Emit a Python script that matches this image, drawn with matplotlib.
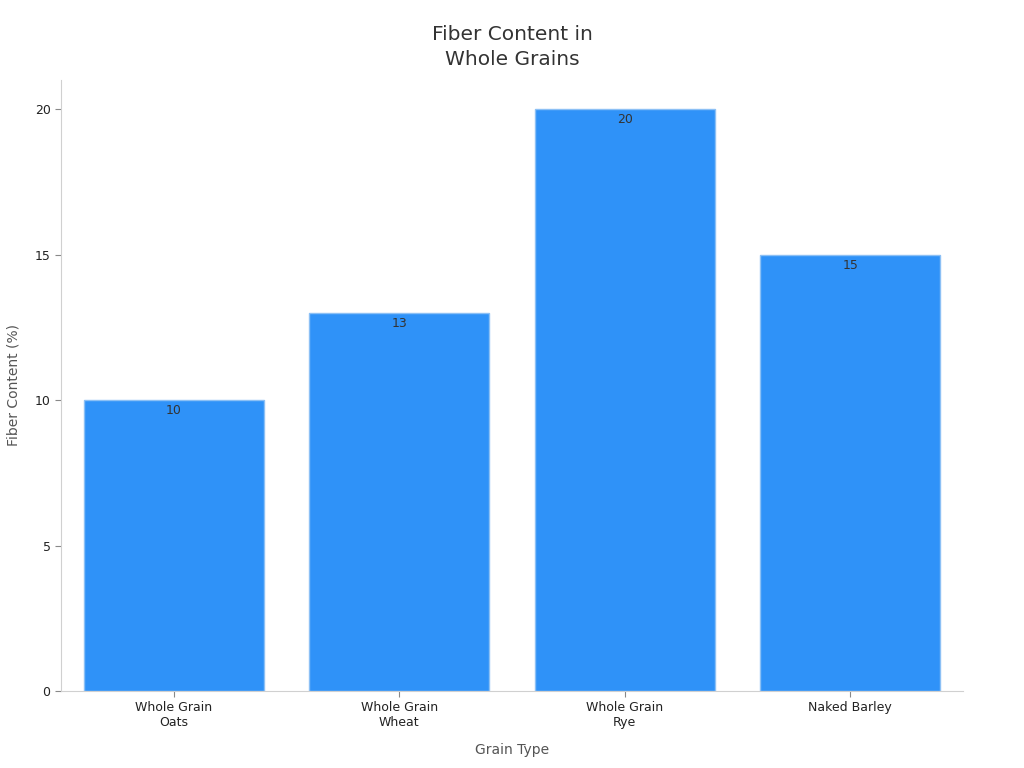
import matplotlib
matplotlib.use("Agg")
import matplotlib.pyplot as plt

grains = ["Whole Grain\nOats", "Whole Grain\nWheat", "Whole Grain\nRye", "Naked Barley"]
fiber = [10, 13, 20, 15]
yticks = [0, 5, 10, 15, 20]

plt.rcParams['font.family'] = ['DejaVu Sans']

fig = plt.figure(figsize=(10.24, 7.68), dpi=100)
ax = fig.add_axes([0.0596, 0.1003, 0.8808, 0.7955])

x = range(len(grains))
bars = ax.bar(x, fiber, width=0.8, color="#2f92f8", edgecolor="#8cc0f5", linewidth=1)

for b, v in zip(bars, fiber):
    ax.text(b.get_x() + b.get_width() / 2, v - 0.15, str(v), ha="center", va="top",
            fontsize=9, color="#333333")

ax.set_xlim(-0.5, 3.5)
ax.set_ylim(0, 21)
ax.set_xticks(list(x))
ax.set_xticklabels(grains, fontsize=9, color="#222222")
ax.set_yticks(yticks)
ax.set_yticklabels([str(t) for t in yticks], fontsize=9, color="#222222")

for s in ["top", "right"]:
    ax.spines[s].set_visible(False)
for s in ["left", "bottom"]:
    ax.spines[s].set_color("#d0d0d0")
ax.tick_params(axis="both", color="#888888", length=4)

ax.set_xlabel("Grain Type", fontsize=10, color="#555555", labelpad=10)
ax.set_ylabel("Fiber Content (%)", fontsize=10, color="#555555", labelpad=10)
ax.set_title("Fiber Content in\nWhole Grains", fontsize=14.5, color="#333333", pad=11,
             linespacing=1.35)

fig.savefig("out.png", dpi=100)
